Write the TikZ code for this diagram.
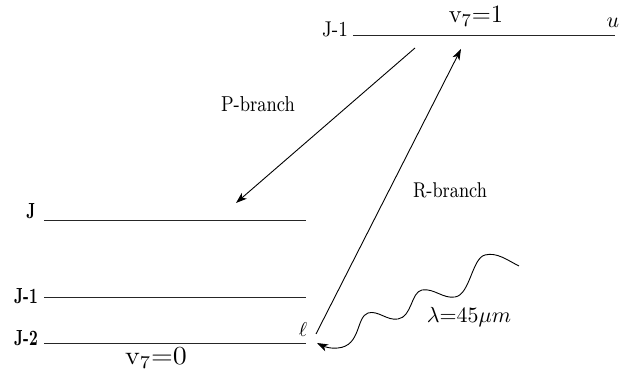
\documentclass[tikz,border=0pt]{standalone}
\usepackage{graphicx}
\usetikzlibrary{arrows.meta}
\newcommand{\stretchtext}[3]{\scalebox{#1}[#2]{#3}}
\begin{document}
\begin{tikzpicture}[x=0.5pt,y=-0.5pt,
  level/.style={line width=0.75pt,draw=black!85},
  trans/.style={line width=0.45pt,-{Stealth[length=5.5pt,width=3.8pt,inset=1.5pt]}},
  lbl/.style={inner sep=0pt,outer sep=0pt}]
\useasboundingbox (0,0) rectangle (634,383);

% energy levels
\coordinate (ua) at (353,35.5);  \coordinate (ub) at (615,35.5);
\coordinate (ja) at (44,220.5);  \coordinate (jb) at (306,220.5);
\coordinate (j1a) at (44,297.5); \coordinate (j1b) at (306,297.5);
\coordinate (j2a) at (44,343.5); \coordinate (j2b) at (306,343.5);
\draw[level] (ua) -- (ub);
\draw[level] (ja) -- (jb);
\draw[level] (j1a) -- (j1b);
\draw[level] (j2a) -- (j2b);

% labels
\node[lbl] (ltop) at (335,29) {\stretchtext{1}{1.15}{\fontsize{9.3}{10}\selectfont J-1}};
\node[lbl] (vone) at (476,16) {\fontsize{12.5}{14}\selectfont v$_7$=1};
\node[lbl] (uu) at (613,22.5) {\fontsize{11}{12}\selectfont $u$};
\node[lbl] (lj) at (31,211) {\stretchtext{0.8}{1.15}{\fontsize{9.5}{11}\selectfont\bfseries J}};
\node[lbl] (lj1) at (26,296) {\stretchtext{0.8}{1.15}{\fontsize{9.5}{11}\selectfont\bfseries J-1}};
\node[lbl] (lj2) at (26,338) {\stretchtext{0.8}{1.15}{\fontsize{9.5}{11}\selectfont\bfseries J-2}};
\node[lbl] (ell) at (303,330) {\fontsize{10}{12}\selectfont $\ell$};
\node[lbl] (vzero) at (156,358) {\stretchtext{1.1}{1}{\fontsize{13}{15}\selectfont v$_7$=0}};
\node[lbl] (pb) at (258,104.5) {\stretchtext{1}{1.2}{\fontsize{9}{11}\selectfont P-branch}};
\node[lbl] (rb) at (450,190) {\stretchtext{1}{1.2}{\fontsize{8.9}{11}\selectfont R-branch}};
\node[lbl] (lam) at (469,317) {\fontsize{10.7}{13}\selectfont $\lambda{=}45\mu m$};

% transitions
\coordinate (ps) at (415,48);  \coordinate (pe) at (236,203);
\coordinate (rs) at (316,334); \coordinate (re) at (461,49);
\draw[trans] (ps) -- (pe);
\draw[trans] (rs) -- (re);

% photon
\coordinate (ws) at (519,266); \coordinate (we) at (317,343);
\draw[trans] (ws) .. controls (507,260) and (497,252) .. (485,255)
  .. controls (472,258) and (470,295) .. (455,297)
  .. controls (443,299) and (434,288) .. (422,290)
  .. controls (411,292) and (412,317) .. (398,319)
  .. controls (387,321) and (378,310) .. (368,313)
  .. controls (356,317) and (361,346) .. (338,348)
  .. controls (330,349) and (323,346) .. (we);
\end{tikzpicture}
\end{document}
